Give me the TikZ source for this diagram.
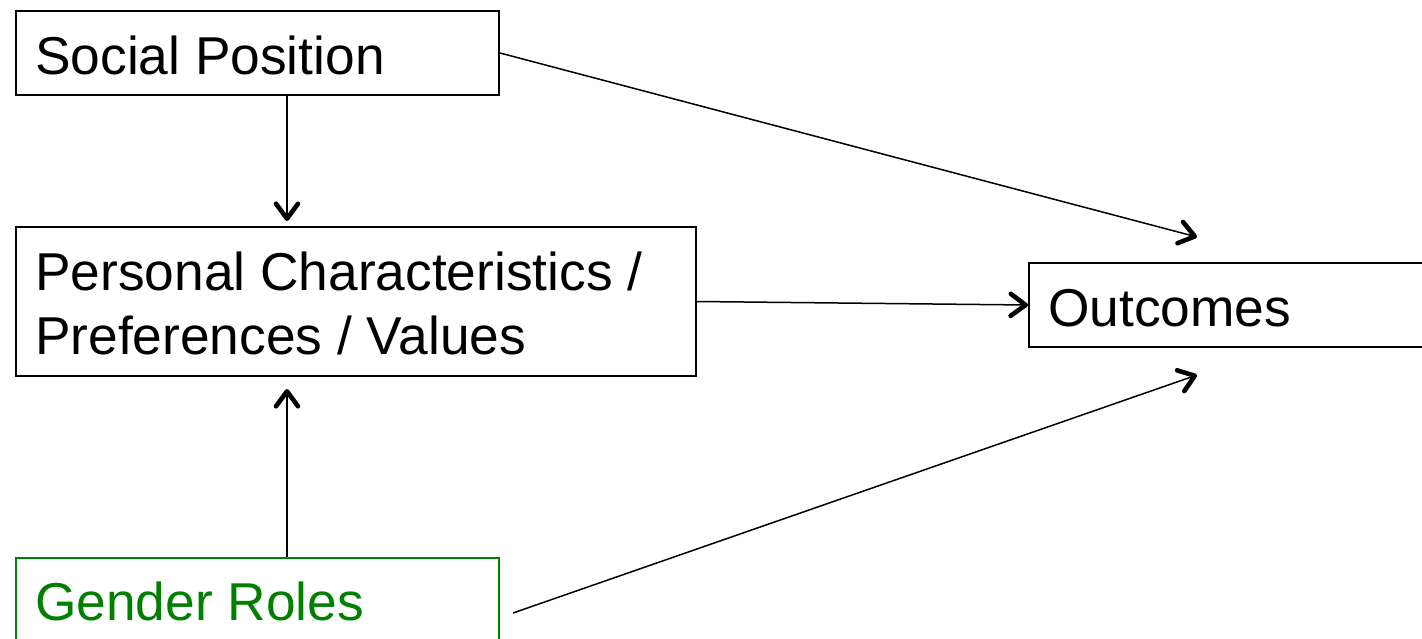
\documentclass[tikz,border=0pt]{standalone}
\usepackage{fontspec}
\setmainfont{Liberation Sans}
\usetikzlibrary{arrows.meta}
\definecolor{grole}{RGB}{0,128,0}
\tikzset{
  box/.style={draw=black, line width=2pt, rectangle, inner sep=0pt, anchor=north west},
  lbl/.style={anchor=base west, inner sep=0pt, font=\fontsize{53.3}{64}\selectfont},
  conn/.style={line width=1.5pt, -{Straight Barb[length=15pt,width=22pt,line width=4.6pt,round]}},
}
\begin{document}
\begin{tikzpicture}[x=1pt,y=-1pt]
\useasboundingbox (0,0) rectangle (1422,638);
\clip (0,0) rectangle (1422,638);
\fill[white] (0,0) rectangle (1422,638);
% boxes
\node[box, minimum width=483pt, minimum height=84pt] (sp) at (15,10) {};
\node[box, minimum width=680pt, minimum height=149pt] (pc) at (15,226) {};
\node[box, minimum width=420pt, minimum height=84pt] (out) at (1028,262) {};
\node[box, draw=grole, minimum width=483pt, minimum height=112pt] (gr) at (15,557) {};
% texts
\node[lbl] (spt) at (35,74) {Social Position};
\node[lbl] (pct1) at (35,290) {Personal Characteristics /};
\node[lbl] (pct2) at (35,354) {Preferences / Values};
\node[lbl] (outt) at (1048,326) {Outcomes};
\node[lbl, text=grole] (grt) at (35,620) {Gender Roles};
% coordinates
\coordinate (spb) at (287,94);
\coordinate (pctop) at (287,221);
\coordinate (grt0) at (287,557);
\coordinate (pcbot) at (287,389);
\coordinate (outa) at (1197,237);
\coordinate (outb) at (1197,375);
\coordinate (gre) at (513,613);
% connectors
\draw[conn] (spb) -- (pctop);
\draw[conn] (grt0) -- (pcbot);
\draw[conn] (sp.east) -- (outa);
\draw[conn] (pc.east) -- (out.west);
\draw[conn] (gre) -- (outb);
\end{tikzpicture}
\end{document}
